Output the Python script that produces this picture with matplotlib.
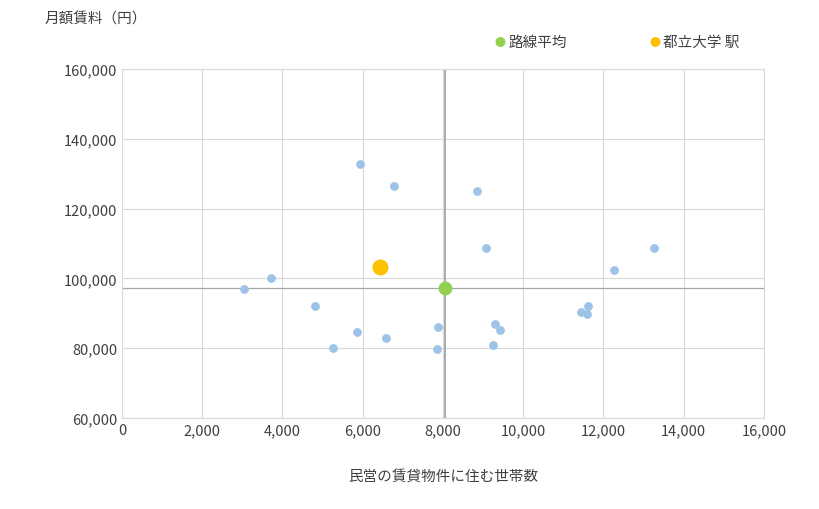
import matplotlib.pyplot as plt
plt.rcParams['font.family'] = ['Noto Sans CJK JP', 'DejaVu Sans']

xs = [3050, 3720, 4800, 5250, 5850, 5930, 6580, 6780, 7850, 7870, 8850, 9080, 9250, 9300, 9430, 11450, 11580, 11620, 12250, 13250]
ys = [97000, 100200, 92200, 80200, 84500, 132700, 82800, 126500, 79700, 86000, 125000, 108800, 81000, 86800, 85200, 90500, 89700, 92000, 102300, 108800]
avg_x, avg_y = 8060, 97300
st_x, st_y = 6420, 103200
xticks = list(range(0, 16001, 2000))
yticks = list(range(60000, 160001, 20000))

fig = plt.figure(figsize=(8.2, 5.1), dpi=100)
ax = fig.add_axes([122/820, 1-419/510, (764-122)/820, (419-70)/510])
ax.set_xlim(0, 16000); ax.set_ylim(60000, 160000)
ax.set_xticks(xticks); ax.set_yticks(yticks)
ax.set_xticklabels([f"{v:,}" for v in xticks], fontsize=10.5)
ax.set_yticklabels([f"{v:,}" for v in yticks], fontsize=10.5)
ax.grid(color='#d9d9d9', lw=0.8)
ax.set_axisbelow(True)
for s in ax.spines.values(): s.set_color('#d9d9d9')
ax.tick_params(length=0, colors='#404040')
ax.axvline(avg_x, color='#a6a6a6', lw=1.3)
ax.axhline(avg_y, color='#a6a6a6', lw=0.9)
ax.scatter(xs, ys, s=28, color='#9dc3e6', zorder=3)
ax.scatter([avg_x], [avg_y], s=80, color='#92d050', zorder=4)
ax.scatter([st_x], [st_y], s=110, color='#ffc000', zorder=4)
fig.text(45/820, 1-20/510, '月額賃料（円）', fontsize=10.5, va='center', color='#404040')
fig.text(443/820, 1-477/510, '民営の賃貸物件に住む世帯数', fontsize=10.5, ha='center', va='center', color='#404040')
fig.text(500/820, 1-43/510, '●', color='#92d050', fontsize=8, ha='center', va='center')
fig.text(508/820, 1-43/510, '路線平均', fontsize=10.5, va='center', color='#404040')
fig.text(655/820, 1-43/510, '●', color='#ffc000', fontsize=8, ha='center', va='center')
fig.text(663/820, 1-43/510, '都立大学 駅', fontsize=10.5, va='center', color='#404040')
fig.savefig('out.png')
